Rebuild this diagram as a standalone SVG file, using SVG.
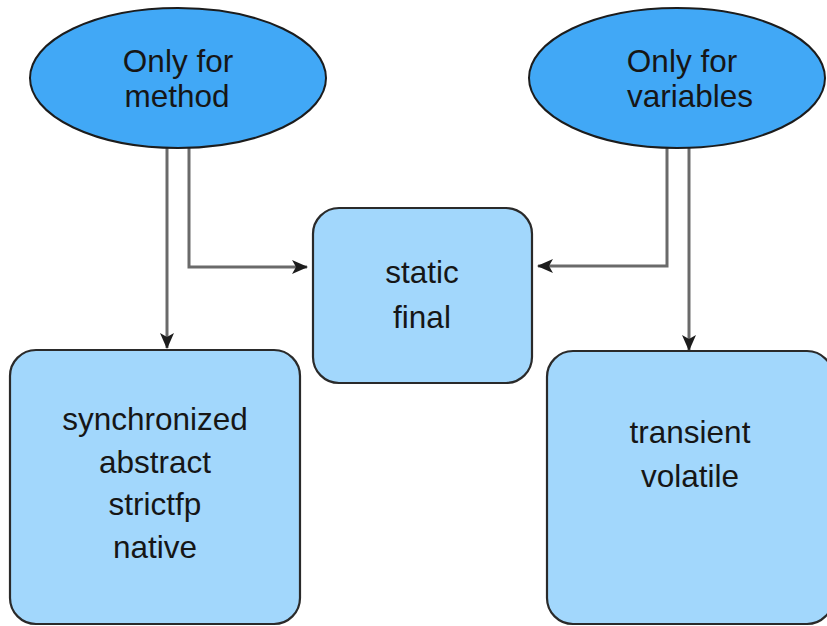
<svg xmlns="http://www.w3.org/2000/svg" width="827" height="626" viewBox="0 0 827 626">
  <style>
    .oval { fill: #41a8f6; stroke: #1c1c1c; stroke-width: 2; }
    .box { fill: #a2d7fc; stroke: #2a2a2a; stroke-width: 2.2; }
    .label { font-family: "Liberation Sans", Arial, sans-serif; font-size: 31.5px; fill: #161616; text-anchor: middle; }
    .wire { fill: none; stroke: #6a6a6a; stroke-width: 3; }
  </style>
  <defs>
    <marker id="arrow" viewBox="0 0 16 14" refX="15" refY="7" markerWidth="16" markerHeight="14" markerUnits="userSpaceOnUse" orient="auto">
      <path d="M0,0 L16,7 L0,14 L4,7 Z" fill="#1c1c1c"/>
    </marker>
  </defs>

  <rect width="827" height="626" fill="#ffffff"/>

  <!-- connectors -->
  <g id="connectors">
    <path class="wire" d="M167,146 L167,348" marker-end="url(#arrow)"/>
    <path class="wire" d="M189,146 L189,267 L307,267" marker-end="url(#arrow)"/>
    <path class="wire" d="M667,146 L667,266 L538,266" marker-end="url(#arrow)"/>
    <path class="wire" d="M689,146 L689,350" marker-end="url(#arrow)"/>
  </g>

  <g id="only-method">
    <ellipse class="oval" cx="178" cy="78" rx="148" ry="70"/>
    <text class="label" x="178" y="72">Only for</text>
    <text class="label" x="177" y="107">method</text>
  </g>

  <g id="only-variables">
    <ellipse class="oval" cx="677" cy="78" rx="148" ry="70"/>
    <text class="label" x="682" y="72">Only for</text>
    <text class="label" x="690" y="107">variables</text>
  </g>

  <g id="static-final">
    <rect class="box" x="313" y="208" width="219" height="175" rx="26" ry="26"/>
    <text class="label" x="422" y="283">static</text>
    <text class="label" x="422" y="328">final</text>
  </g>

  <g id="method-modifiers">
    <rect class="box" x="10" y="350" width="290" height="274" rx="26" ry="26"/>
    <text class="label" x="155" y="430">synchronized</text>
    <text class="label" x="155" y="473">abstract</text>
    <text class="label" x="155" y="515">strictfp</text>
    <text class="label" x="155" y="558">native</text>
  </g>

  <g id="variable-modifiers">
    <rect class="box" x="547" y="351" width="286" height="273" rx="26" ry="26"/>
    <text class="label" x="690" y="443">transient</text>
    <text class="label" x="690" y="487">volatile</text>
  </g>
</svg>
